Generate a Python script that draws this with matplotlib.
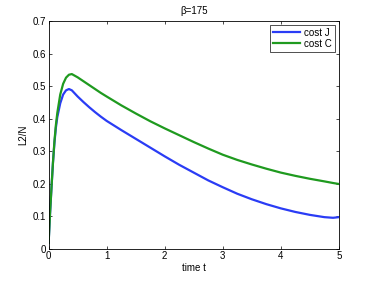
import numpy as np
import matplotlib.pyplot as plt

plt.rcParams['font.family'] = ['Liberation Sans', 'DejaVu Sans']

# values
t = [0, 0.025, 0.05, 0.075, 0.1, 0.125, 0.15, 0.2, 0.25, 0.3, 0.35, 0.4,
     0.5, 0.6, 0.7, 0.8, 0.9, 1.0, 1.25, 1.5, 1.75, 2.0, 2.25, 2.5, 2.75, 3.0,
     3.25, 3.5, 3.75, 4.0, 4.25, 4.5, 4.75, 4.9, 5.0]
cost_j = [0.018, 0.11, 0.19, 0.265, 0.325, 0.372, 0.405, 0.447, 0.474, 0.487, 0.491, 0.487,
          0.468, 0.451, 0.435, 0.420, 0.406, 0.393, 0.365, 0.338, 0.311, 0.284, 0.258, 0.234,
          0.210, 0.189, 0.169, 0.152, 0.137, 0.124, 0.113, 0.104, 0.097, 0.095, 0.097]
cost_c = [0.018, 0.11, 0.19, 0.265, 0.33, 0.38, 0.418, 0.474, 0.507, 0.526, 0.535, 0.537,
          0.527, 0.515, 0.503, 0.491, 0.479, 0.468, 0.441, 0.416, 0.392, 0.370, 0.349, 0.328,
          0.308, 0.289, 0.273, 0.259, 0.246, 0.234, 0.224, 0.215, 0.207, 0.202, 0.199]

fig = plt.figure(figsize=(3.74, 2.81), dpi=100)
ax = fig.add_axes([0.13, 0.115, 0.776, 0.81])
ax.plot(t, cost_j, color='#2a3cf5', lw=1.6, label='cost J')
ax.plot(t, cost_c, color='#1f9a1f', lw=1.6, label='cost C')
ax.set_xlim(0, 5)
ax.set_ylim(0, 0.7)
ax.set_xticks([0, 1, 2, 3, 4, 5])
ax.set_yticks(np.arange(0, 0.71, 0.1))
ax.set_yticklabels(['0', '0.1', '0.2', '0.3', '0.4', '0.5', '0.6', '0.7'])
ax.tick_params(direction='in', top=True, right=True, labelsize=7, length=2.5, width=0.5, pad=2)
for s in ax.spines.values():
    s.set_linewidth(0.6)
ax.set_xlabel('time t', fontsize=7, labelpad=1)
ax.set_ylabel('L2/N', fontsize=7, labelpad=3)
ax.set_title('β=175', fontsize=7, pad=5)
leg = ax.legend(loc='upper right', fontsize=7, fancybox=False, edgecolor='black',
                handlelength=2.8, borderpad=0.3, labelspacing=0.1, handletextpad=0.4,
                borderaxespad=0.4)
leg.get_frame().set_linewidth(0.6)
fig.savefig('out.png', dpi=100)
